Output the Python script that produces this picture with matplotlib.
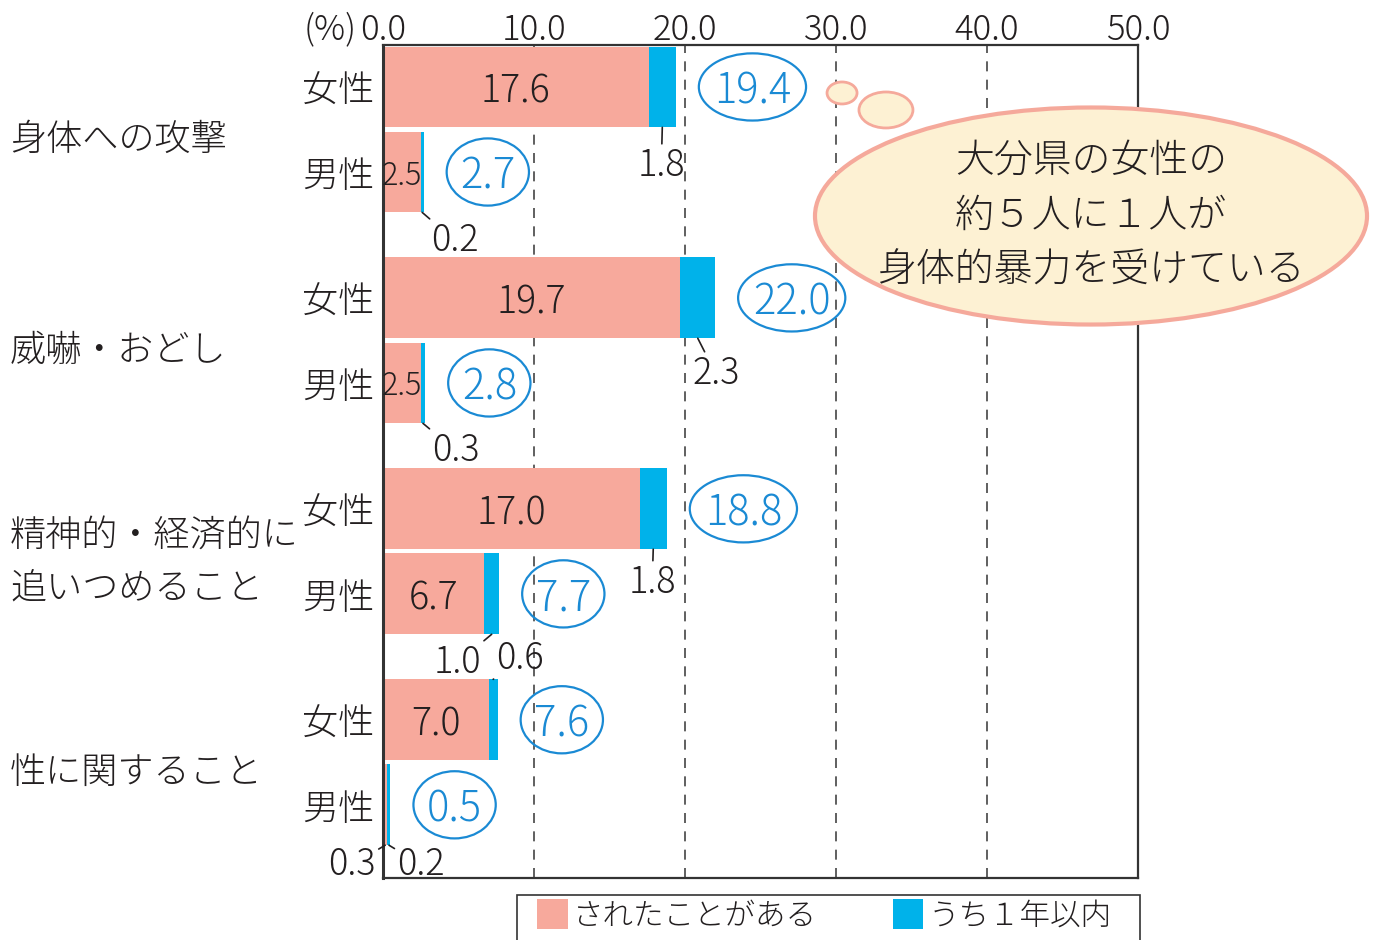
import numpy as np
import matplotlib
matplotlib.use('Agg')
import matplotlib.pyplot as plt
import matplotlib.transforms as mtransforms
from matplotlib.patches import Ellipse, Patch, Rectangle

plt.rcParams['font.family'] = ['Noto Sans CJK JP', 'DejaVu Sans']
plt.rcParams['font.weight'] = 'light'

# データ
groups = ['身体への攻撃', '威嚇・おどし', '精神的・経済的に\n追いつめること', '性に関すること']
sexes = ['女性', '男性']
ever = [17.6, 2.5, 19.7, 2.5, 17.0, 6.7, 7.0, 0.3]     # されたことがある
recent = [1.8, 0.2, 2.3, 0.3, 1.8, 1.0, 0.6, 0.2]     # うち１年以内
totals = [19.4, 2.7, 22.0, 2.8, 18.8, 7.7, 7.6, 0.5]
xticks = [0, 10, 20, 30, 40, 50]
legend_labels = ['されたことがある', 'うち１年以内']
callout = '大分県の女性の\n約５人に１人が\n身体的暴力を受けている'

PINK = '#F7A99C'
BLUE = '#00B2EA'
RING = '#1A8AD4'
INK = '#231F20'

ypos = np.array([g * 2.48 + s for g in range(len(groups)) for s in range(2)])
ylabels = [sexes[i % 2] for i in range(len(ypos))]
h = 0.95

fig = plt.figure(figsize=(13.77, 9.40), dpi=100)
ax = fig.add_axes([0.2781, 0.0660, 0.5483, 0.8862])

ax.barh(ypos, ever, height=h, color=PINK, zorder=2)
ax.barh(ypos, recent, left=ever, height=h, color=BLUE, zorder=2)

ax.set_xlim(0, 50)
ax.set_ylim(9.30, -0.494)
for v in xticks[1:-1]:
    ax.axvline(v, color='#444444', lw=1.2, ls=(0, (6, 5)), zorder=1)

ax.xaxis.tick_top()
ax.set_xticks(xticks, [f'{v:.1f}' for v in xticks])
ax.tick_params(axis='x', length=0, pad=-2, labelsize=25, labelcolor=INK)
ax.set_yticks(ypos, ylabels)
ax.tick_params(axis='y', length=0, pad=6, labelsize=26, labelcolor=INK)
for s in ax.spines.values():
    s.set_color('#333333')
    s.set_linewidth(1.6)
ax.spines['left'].set_linewidth(2.2)

ax.annotate('(%)', xy=(0, 1), xycoords='axes fraction', xytext=(-19, -2),
            textcoords='offset points', ha='right', va='bottom', fontsize=25, color=INK)

# 左側の項目名
trans = mtransforms.blended_transform_factory(fig.transFigure, ax.transData)
for g, name in enumerate(groups):
    yc = (ypos[2 * g] + ypos[2 * g + 1]) / 2 + 0.12
    ax.text(0.0073, yc, name, transform=trans, ha='left', va='center',
            fontsize=26, color=INK, linespacing=1.5)

# 棒の中の数値
for i in range(len(ypos)):
    if ever[i] >= 1:
        fs = 27 if ever[i] > 5 else 22
        ax.text(ever[i] / 2, ypos[i], f'{ever[i]:.1f}', ha='center', va='center_baseline',
                fontsize=fs, color=INK, zorder=3)

# 引き出し線つきの数値 (index, 系列, 上下, dx, dy)
callouts = [(0, 'r', 1, -1, 34), (1, 'r', 1, 33, 24), (2, 'r', 1, 18, 31),
            (3, 'r', 1, 33, 23), (4, 'r', 1, -1, 29), (5, 'r', 1, -34, 24),
            (6, 'r', -1, 27, -25), (7, 'e', 1, -33, 15), (7, 'r', 1, 32, 15)]
for i, kind, side, dx, dy in callouts:
    if kind == 'r':
        x, val = ever[i] + recent[i] / 2, recent[i]
    else:
        x, val = ever[i] / 2, ever[i]
    y = ypos[i] + side * h / 2
    ax.annotate(f'{val:.1f}', xy=(x, y), xytext=(dx, -dy), textcoords='offset pixels',
                ha='center', va='center_baseline', fontsize=26, color=INK, annotation_clip=False,
                arrowprops=dict(arrowstyle='-', color=INK, lw=1.2, shrinkA=0, shrinkB=0))

# 合計（丸囲み）
for i, t in enumerate(totals):
    lab = f'{t:.1f}'
    w = 7.1 if len(lab) >= 4 else 5.45
    cx = t + 1.52 + w / 2
    ax.add_patch(Ellipse((cx, ypos[i]), w, 0.79, fc='none', ec=RING, lw=1.6, zorder=3))
    ax.text(cx, ypos[i], lab, ha='center', va='center_baseline', fontsize=30,
            color=RING, zorder=3)

# 吹き出し
fig.add_artist(Ellipse((0.6115, 0.9011), 0.0218, 0.0234, transform=fig.transFigure,
                       fc='#FDF1D3', ec='#F5A99B', lw=2, zorder=3))
fig.add_artist(Ellipse((0.6434, 0.8830), 0.0392, 0.0383, transform=fig.transFigure,
                       fc='#FDF1D3', ec='#F5A99B', lw=2, zorder=3))
fig.add_artist(Ellipse((0.7923, 0.7702), 0.4009, 0.2309, transform=fig.transFigure,
                       fc='#FDF1D3', ec='#F5A99B', lw=3, zorder=3))
fig.text(0.7923, 0.7702, callout, ha='center', va='center', fontsize=28,
         color=INK, linespacing=1.5, zorder=4)

# 凡例
fig.add_artist(Rectangle((517 / 1377, -0.05), 623 / 1377, 0.05 + 1 - 895 / 940,
                         transform=fig.transFigure, fc='white', ec='#333333', lw=1.2, zorder=2))
handles = [Patch(fc=PINK), Patch(fc=BLUE)]
leg = fig.legend(handles, legend_labels, loc='upper left',
                 bbox_to_anchor=(537 / 1377, 1 - 899 / 940),
                 ncol=2, frameon=False, fontsize=22, handlelength=1.0, handleheight=1.15,
                 handletextpad=0.16, columnspacing=2.5, borderpad=0, borderaxespad=0)
leg.set_zorder(4)
for t in leg.get_texts():
    t.set_color(INK)

fig.savefig('out.png', dpi=100)
